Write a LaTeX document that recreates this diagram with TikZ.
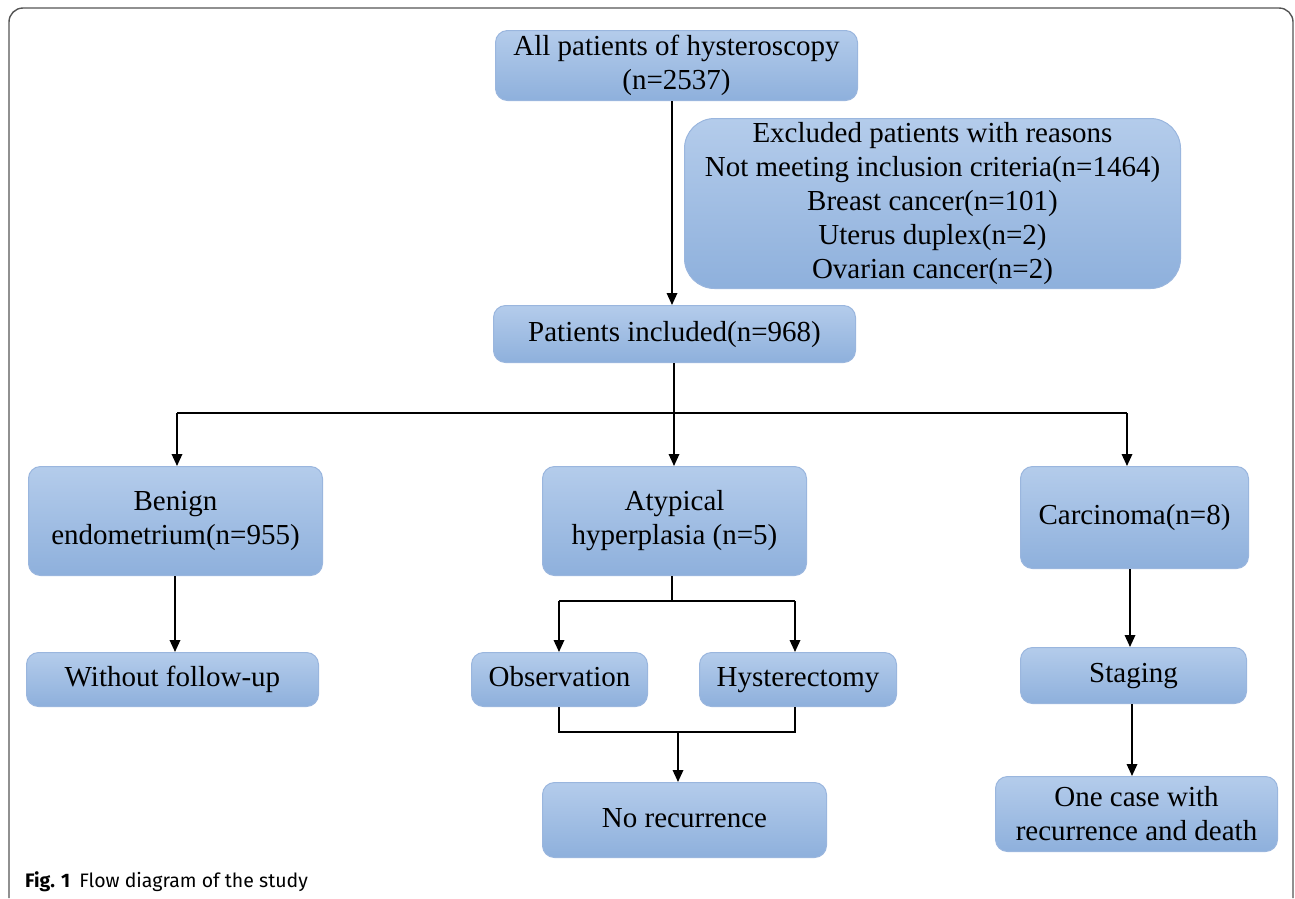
\documentclass[tikz,border=0pt]{standalone}
\usepackage{fontspec}
\setmainfont{Liberation Serif}
\newfontfamily\capfont{Fira Sans}
\usetikzlibrary{arrows.meta}
\definecolor{boxtop}{HTML}{B4CCEB}
\definecolor{boxbot}{HTML}{8EB0DC}
\definecolor{boxline}{HTML}{9AB6DE}
\definecolor{framecol}{HTML}{555555}
\tikzset{
  bx/.style={draw=boxline, line width=1pt, top color=boxtop, bottom color=boxbot,
    rounded corners=12pt, align=center, font=\fontsize{29}{34}\selectfont,
    inner sep=0pt, anchor=north west},
  one/.style={text height=20pt, text depth=6pt},
  arr/.style={line width=1.8pt, -{Triangle[length=12pt,width=10.5pt]}},
  ln/.style={line width=1.8pt},
}
\begin{document}
\begin{tikzpicture}[x=1pt,y=-1pt]
\useasboundingbox (0,0) rectangle (1295,898);
\draw[framecol, line width=1.4pt, rounded corners=14pt] (9,898) -- (9,8) -- (1293,8) -- (1293,898);
% boxes
\node[bx, minimum width=362pt, minimum height=70pt] (all) at (495,30) {All patients of hysteroscopy\\(n=2537)};
\node[bx, rounded corners=30pt, minimum width=496pt, minimum height=170pt] (exc) at (684,118)
  {Excluded patients with reasons\\Not meeting inclusion criteria(n=1464)\\Breast cancer(n=101)\\Uterus duplex(n=2)\\Ovarian cancer(n=2)};
\node[bx, one, minimum width=362pt, minimum height=57pt] (inc) at (493,305) {Patients included(n=968)};
\node[bx, minimum width=294pt, minimum height=109pt] (ben) at (28,466) {Benign\\endometrium(n=955)};
\node[bx, minimum width=264pt, minimum height=109pt] (aty) at (542,466) {Atypical\\hyperplasia (n=5)};
\node[bx, one, minimum width=228pt, minimum height=102pt] (car) at (1020,466) {Carcinoma(n=8)};
\node[bx, one, minimum width=292pt, minimum height=54pt] (wfu) at (26,652) {Without follow-up};
\node[bx, one, minimum width=176pt, minimum height=54pt] (obs) at (471,652) {Observation};
\node[bx, one, minimum width=197pt, minimum height=54pt] (hys) at (699,652) {Hysterectomy};
\node[bx, one, minimum width=226pt, minimum height=56pt] (sta) at (1020,647) {Staging};
\node[bx, one, minimum width=284pt, minimum height=75pt] (nor) at (542,782) {No recurrence};
\node[bx, minimum width=282pt, minimum height=75pt] (one) at (995,776) {One case with\\recurrence and death};
% connectors
\draw[arr] (all.south -| 672,0) -- (inc.north -| 672,0);
\coordinate (h1) at (674,413);
\draw[ln] (inc.south -| h1) -- (h1);
\draw[ln] (177,413) -- (1127,413);
\draw[arr] (177,413) -- (ben.north -| 177,0);
\draw[arr] (h1) -- (aty.north -| h1);
\draw[arr] (1127,413) -- (car.north -| 1127,0);
\draw[arr] (ben.south -| 175,0) -- (wfu.north -| 175,0);
\coordinate (h2) at (672,601);
\draw[ln] (aty.south -| h2) -- (h2);
\draw[ln] (559,601) -- (795,601);
\draw[arr] (559,601) -- (obs.north -| 559,0);
\draw[arr] (795,601) -- (hys.north -| 795,0);
\draw[ln] (obs.south -| 559,0) -- (559,732) -- (795,732) -- (hys.south -| 795,0);
\coordinate (h3) at (678,732);
\draw[arr] (h3) -- (nor.north -| h3);
\draw[arr] (car.south -| 1130,0) -- (sta.north -| 1130,0);
\draw[arr] (sta.south -| 1132,0) -- (one.north -| 1132,0);
% caption
\node[anchor=base west, inner sep=0pt, font=\capfont\fontsize{19.5}{22}\selectfont] (cap) at (25,887)
  {\textbf{Fig. 1}\hspace{9pt}Flow diagram of the study};
\end{tikzpicture}
\end{document}
